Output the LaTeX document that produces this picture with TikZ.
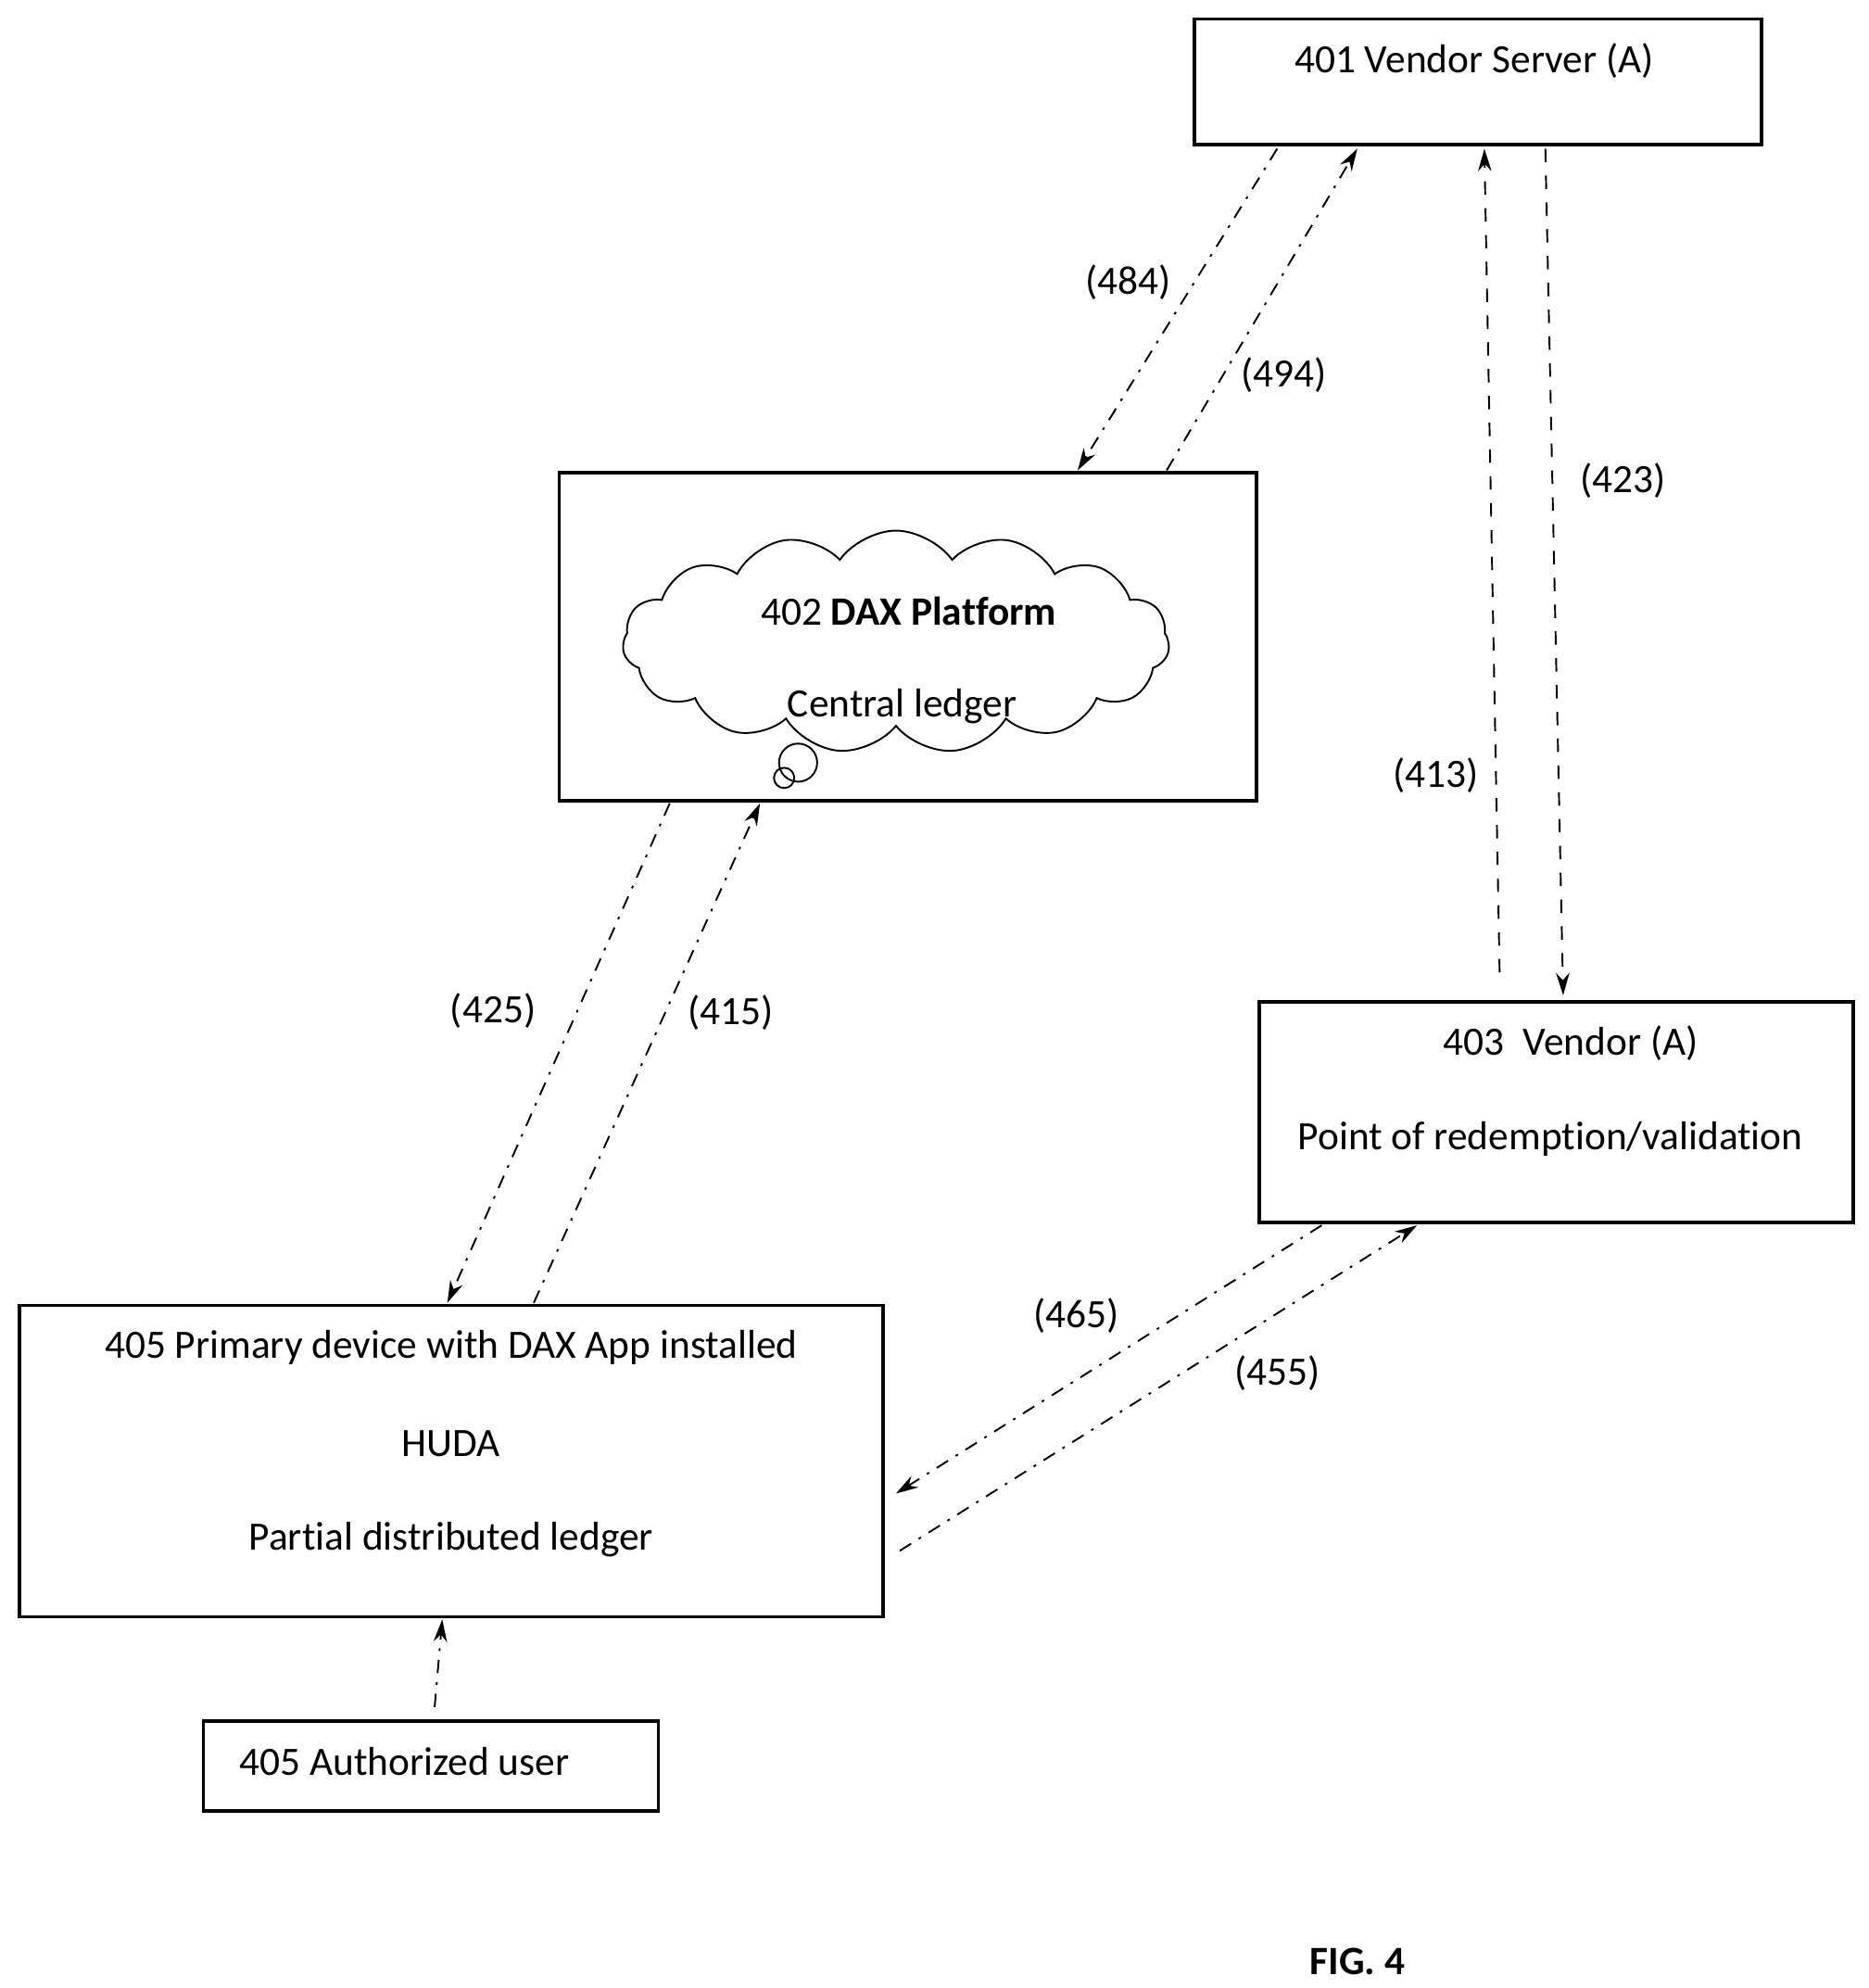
\documentclass[tikz,border=0pt]{standalone}
\usepackage{fontspec}
\setmainfont{Carlito}[Ligatures=NoCommon]
\usetikzlibrary{shapes.symbols,arrows.meta,positioning}
\tikzset{
box/.style={draw,thick,inner sep=0pt},
txt/.style={font=\fontsize{9}{11}\selectfont},
flow/.style={dash pattern=on 3pt off 2pt on 0.6pt off 2pt,-{Stealth[length=5pt,width=3pt]}},
}
\begin{document}
\begin{tikzpicture}[x=0.01cm,y=-0.01cm]
\useasboundingbox (0,0) rectangle (1470,1564);
% boxes
\draw[box] (940,15) rectangle (1386,114);
\node[txt] (t401) at (1160,48) {401 Vendor Server (A)};
\draw[box] (440,372) rectangle (989,630);
\node[cloud,draw,cloud puffs=15,cloud puff arc=110,aspect=2.5,minimum width=4.3cm,minimum height=1.75cm] (cloud) at (705,505) {};
\draw (628,600) circle (15);
\draw (617,612) circle (8);
\node[txt] (t402) at (715,481) {402 \textbf{DAX Platform}};
\node[txt] (c402) at (710,556) {Central ledger};
\draw[box] (991,788) rectangle (1458,962);
\node[txt] (t403) at (1236,821) {403\ \ Vendor (A)};
\node[txt] (p403) at (1220,896) {Point of redemption/validation};
\draw[box] (15,1027) rectangle (695,1272);
\node[txt] (t405) at (355,1060) {405 Primary device with DAX App installed};
\node[txt] (h405) at (355,1136) {HUDA};
\node[txt] (l405) at (355,1211) {Partial distributed ledger};
\draw[box] (160,1354) rectangle (518,1425);
\node[txt,anchor=west] (user) at (176,1386) {405 Authorized user};
\node[txt,font=\fontsize{9}{11}\selectfont\bfseries] (fig) at (1068,1543) {FIG. 4};
% end points
\coordinate (a1) at (1005,117); \coordinate (a2) at (848,370);
\coordinate (b1) at (918,370); \coordinate (b2) at (1068,117);
\coordinate (c1) at (1180,765); \coordinate (c2) at (1168,117);
\coordinate (d1) at (1216,117); \coordinate (d2) at (1230,783);
\coordinate (e1) at (527,632); \coordinate (e2) at (352,1025);
\coordinate (f1) at (420,1025); \coordinate (f2) at (598,632);
\coordinate (g1) at (1040,964); \coordinate (g2) at (705,1175);
\coordinate (h1) at (708,1220); \coordinate (h2) at (1115,964);
\coordinate (u1) at (342,1343); \coordinate (u2) at (348,1274);
% connectors
\draw[flow] (a1) -- (a2);
\draw[flow] (b1) -- (b2);
\draw[flow,dashed] (c1) -- (c2);
\draw[flow,dashed] (d1) -- (d2);
\draw[flow] (e1) -- (e2);
\draw[flow] (f1) -- (f2);
\draw[flow] (g1) -- (g2);
\draw[flow] (h1) -- (h2);
\draw[flow] (u1) -- (u2);
% labels
\node[txt] (l484) at (888,222) {(484)};
\node[txt] (l494) at (1010,295) {(494)};
\node[txt] (l413) at (1130,610) {(413)};
\node[txt] (l423) at (1277,378) {(423)};
\node[txt] (l425) at (388,795) {(425)};
\node[txt] (l415) at (575,797) {(415)};
\node[txt] (l465) at (847,1035) {(465)};
\node[txt] (l455) at (1005,1080) {(455)};
\end{tikzpicture}
\end{document}
